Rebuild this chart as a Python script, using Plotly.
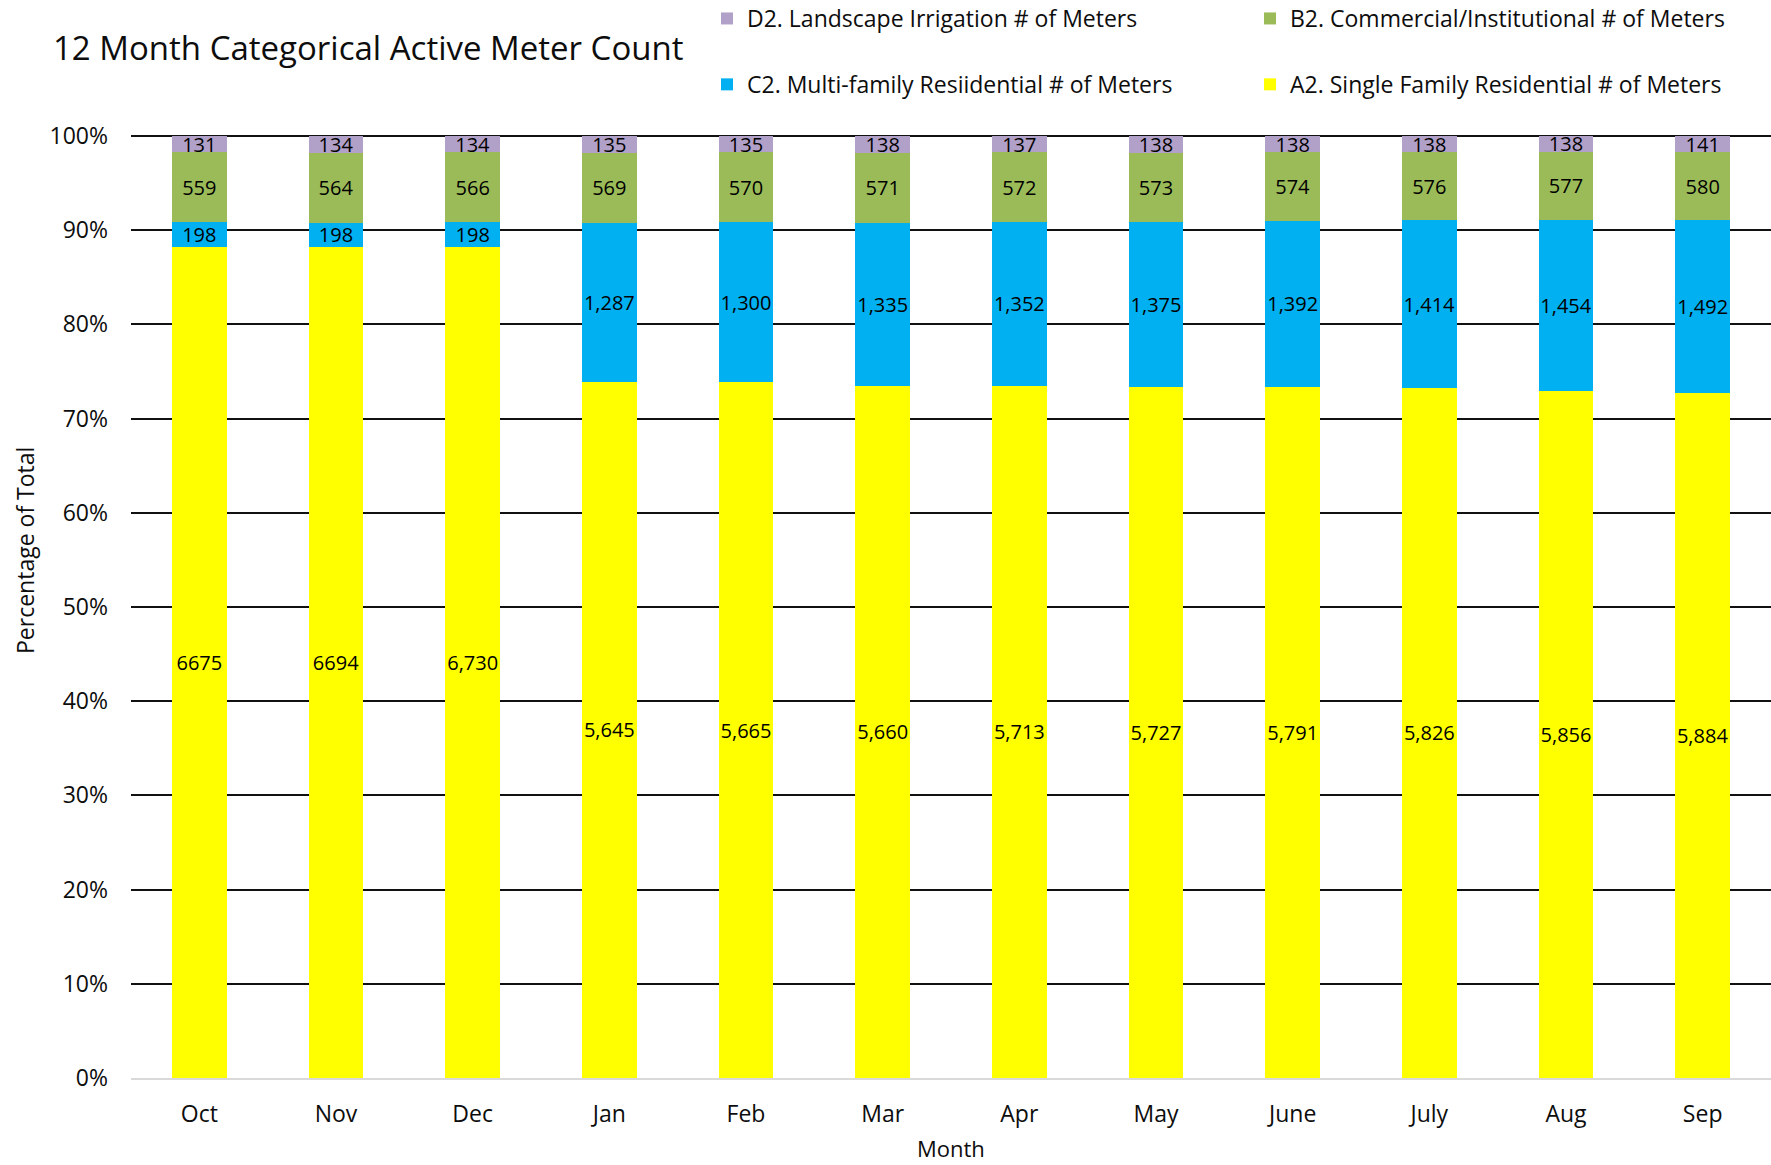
import plotly.graph_objects as go

months = ["Oct", "Nov", "Dec", "Jan", "Feb", "Mar", "Apr", "May", "June", "July", "Aug", "Sep"]
single_family = [6675, 6694, 6730, 5645, 5665, 5660, 5713, 5727, 5791, 5826, 5856, 5884]
multi_family = [198, 198, 198, 1287, 1300, 1335, 1352, 1375, 1392, 1414, 1454, 1492]
commercial = [559, 564, 566, 569, 570, 571, 572, 573, 574, 576, 577, 580]
irrigation = [131, 134, 134, 135, 135, 138, 137, 138, 138, 138, 138, 141]
# months whose single-family label is shown without a thousands separator
single_family_plain_label_months = ["Oct", "Nov"]

y_ticks = [0, 10, 20, 30, 40, 50, 60, 70, 80, 90, 100]

FONT = "Open Sans"
TXT = "#0d0d0d"


def fmt(values, plain_months=()):
    out = []
    for m, v in zip(months, values):
        out.append(str(v) if m in plain_months else f"{v:,}")
    return out


# (name, values, colour, legend box, rank inside that box, labels)
series = [
    ("A2. Single Family Residential # of Meters", single_family, "#FFFF00", "legend2", 2,
     fmt(single_family, single_family_plain_label_months)),
    ("C2. Multi-family Resiidential # of Meters", multi_family, "#00B0F0", "legend", 2,
     fmt(multi_family)),
    ("B2. Commercial/Institutional # of Meters", commercial, "#9BBB59", "legend2", 1,
     fmt(commercial)),
    ("D2. Landscape Irrigation # of Meters", irrigation, "#B1A0C7", "legend", 1,
     fmt(irrigation)),
]

fig = go.Figure()
for name, vals, color, leg, rank, labels in series:
    fig.add_trace(go.Bar(
        x=months, y=vals, name=name,
        marker=dict(color=color, line=dict(width=0)),
        text=labels, textposition="inside", insidetextanchor="middle",
        textangle=0, textfont=dict(family=FONT, size=20, color="#000000"),
        legend=leg, legendgroup=name, legendrank=rank,
    ))

plot_top = 134
plot_bottom = 1078
plot_h = plot_bottom - plot_top
plot_left = 131
plot_w = 1771 - plot_left

legend_common = dict(
    orientation="v", traceorder="grouped", tracegroupgap=33,
    font=dict(family=FONT, size=23, color=TXT), bgcolor="rgba(0,0,0,0)",
    xanchor="left", yanchor="top", y=1 + (plot_top + 3) / plot_h, itemclick=False,
)

fig.update_layout(
    width=1771, height=1165,
    paper_bgcolor="white", plot_bgcolor="white",
    barmode="stack", barnorm="percent", bargap=0.598,
    margin=dict(l=plot_left, r=0, t=plot_top, b=1165 - plot_bottom, autoexpand=False),
    font=dict(family=FONT, color=TXT),
    title=dict(text="12 Month Categorical Active Meter Count",
               font=dict(family=FONT, size=33, color=TXT),
               x=53 / 1771, xref="container", xanchor="left",
               y=1 - 48 / 1165, yref="container", yanchor="middle"),
    legend=dict(x=(707 - plot_left) / plot_w, **legend_common),
    legend2=dict(x=(1250 - plot_left) / plot_w, **legend_common),
    uniformtext=dict(minsize=20, mode="show"),
    showlegend=True,
)

fig.update_yaxes(
    range=[0, 100.2], tickvals=y_ticks, ticktext=[f"{v}%" for v in y_ticks],
    showgrid=True, gridcolor="#111111", gridwidth=2, zeroline=False,
    showline=False, ticks="", ticklabelstandoff=22,
    tickfont=dict(family=FONT, size=23, color=TXT),
)
fig.update_xaxes(
    showgrid=False, showline=True, linecolor="#D9D9D9", linewidth=2,
    ticks="", ticklabelstandoff=14,
    tickfont=dict(family=FONT, size=23, color=TXT),
)

fig.add_annotation(text="Month", xref="paper", yref="paper",
                   x=0.5, y=-(1148 - plot_bottom) / plot_h,
                   xanchor="center", yanchor="middle", showarrow=False,
                   font=dict(family=FONT, size=22, color=TXT))
fig.add_annotation(text="Percentage of Total", xref="paper", yref="paper",
                   x=(25 - plot_left) / plot_w, y=(plot_bottom - 551) / plot_h,
                   xanchor="center", yanchor="middle", textangle=-90, showarrow=False,
                   font=dict(family=FONT, size=23, color=TXT))

fig.write_html("out.html", config={"displayModeBar": False},
               post_script="document.body.style.margin='0';document.body.style.overflow='hidden';")
